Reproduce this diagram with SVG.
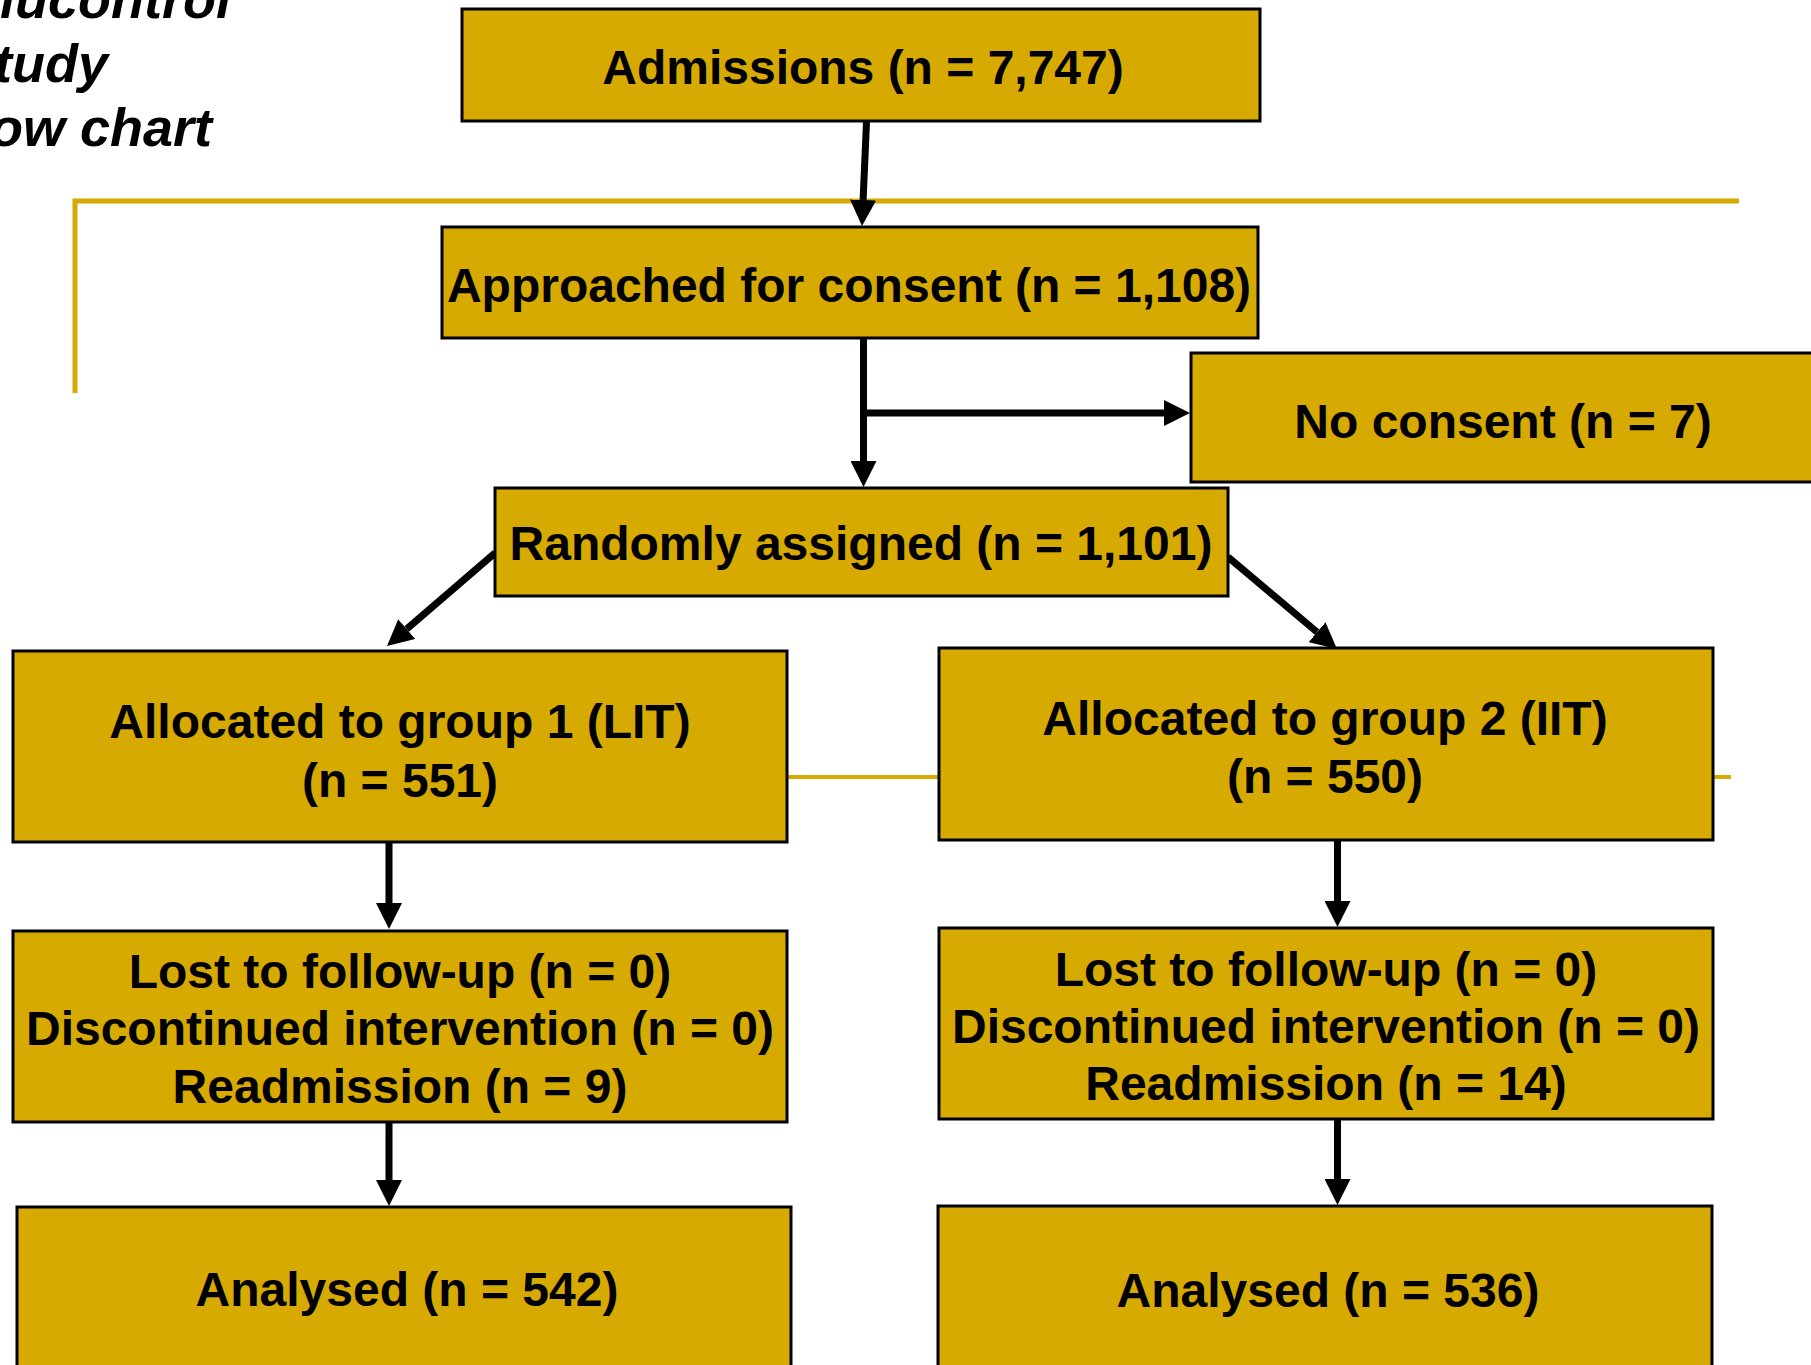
<svg xmlns="http://www.w3.org/2000/svg" width="1811" height="1365" viewBox="0 0 1811 1365">
<defs>
<style>
.box{fill:#D6AA00;stroke:#000;stroke-width:3}
.t{font-family:"Liberation Sans",Arial,sans-serif;font-weight:bold;font-size:48px;fill:#000;text-anchor:middle}
.title{font-family:"Liberation Sans",Arial,sans-serif;font-weight:bold;font-style:italic;font-size:54px;fill:#000}
.gold{stroke:#D6AA00;fill:none}
.c{stroke:#000;stroke-width:7;fill:none;marker-end:url(#ah)}
</style>
<marker id="ah" markerUnits="userSpaceOnUse" markerWidth="26" markerHeight="26" refX="0" refY="13" orient="auto" viewBox="0 0 26 26">
<path d="M0,0 L26,13 L0,26 z" fill="#000"/>
</marker>
</defs>
<rect width="1811" height="1365" fill="#fff"/>
<g id="decor">
<path class="gold" stroke-width="5" d="M75,393 L75,201 L1739,201"/>
<path class="gold" stroke-width="4" d="M700,777 L1731,777"/>
<text class="title" x="0" y="18">lucontrol</text>
<text class="title" x="-6" y="82">tudy</text>
<text class="title" x="-10" y="146">ow chart</text>
</g>
<g id="connectors">
<path class="c" d="M866.5,122 L863.1,200"/>
<path class="c" d="M863.5,338 L863.5,461"/>
<path class="c" stroke-width="8" d="M863,413 L1164,413"/>
<path class="c" d="M495,553 L406.7,629"/>
<path class="c" d="M1228,557 L1317.1,632.2"/>
<path class="c" d="M389,843 L389,903"/>
<path class="c" d="M389,1122 L389,1180"/>
<path class="c" d="M1337.5,841 L1337.5,901"/>
<path class="c" d="M1337.5,1120 L1337.5,1179"/>
</g>
<g id="admissions">
<rect class="box" x="462" y="9" width="798" height="112"/>
<text class="t" x="863" y="84">Admissions (n = 7,747)</text>
</g>
<g id="approached">
<rect class="box" x="442" y="227" width="816" height="111"/>
<text class="t" x="849" y="302">Approached for consent (n = 1,108)</text>
</g>
<g id="noconsent">
<rect class="box" x="1191" y="353" width="640" height="129"/>
<text class="t" x="1503" y="438">No consent (n = 7)</text>
</g>
<g id="randomly">
<rect class="box" x="495" y="488" width="733" height="108"/>
<text class="t" x="861" y="560">Randomly assigned (n = 1,101)</text>
</g>
<g id="group1">
<rect class="box" x="13" y="651" width="774" height="191"/>
<text class="t" x="400" y="738">Allocated to group 1 (LIT)</text>
<text class="t" x="400" y="797">(n = 551)</text>
</g>
<g id="group2">
<rect class="box" x="939" y="648" width="774" height="192"/>
<text class="t" x="1325" y="735">Allocated to group 2 (IIT)</text>
<text class="t" x="1325" y="793">(n = 550)</text>
</g>
<g id="lost1">
<rect class="box" x="13" y="931" width="774" height="191"/>
<text class="t" x="400" y="988">Lost to follow-up (n = 0)</text>
<text class="t" x="400" y="1045">Discontinued intervention (n = 0)</text>
<text class="t" x="400" y="1103">Readmission (n = 9)</text>
</g>
<g id="lost2">
<rect class="box" x="939" y="928" width="774" height="191"/>
<text class="t" x="1326" y="986">Lost to follow-up (n = 0)</text>
<text class="t" x="1326" y="1043">Discontinued intervention (n = 0)</text>
<text class="t" x="1326" y="1100">Readmission (n = 14)</text>
</g>
<g id="analysed1">
<rect class="box" x="17" y="1207" width="774" height="200"/>
<text class="t" x="407" y="1306">Analysed (n = 542)</text>
</g>
<g id="analysed2">
<rect class="box" x="938" y="1206" width="774" height="200"/>
<text class="t" x="1328" y="1307">Analysed (n = 536)</text>
</g>
</svg>
